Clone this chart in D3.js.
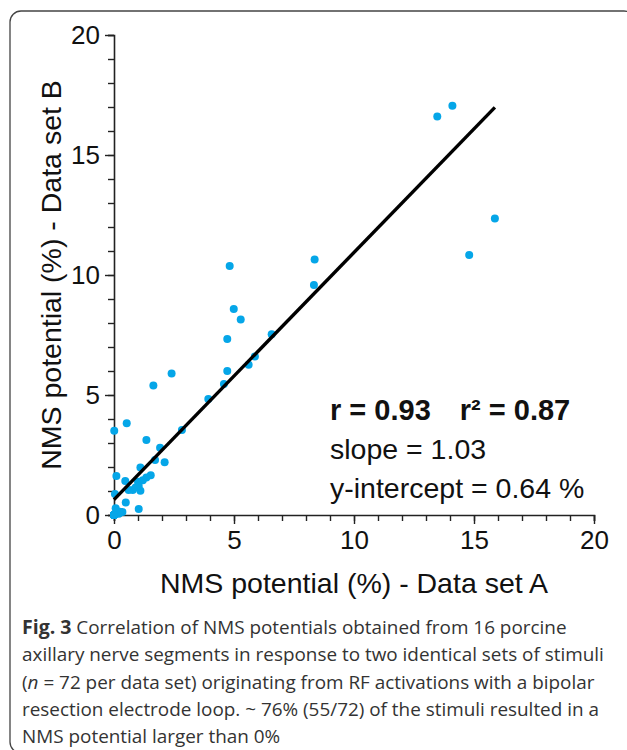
<!DOCTYPE html>
<html>
<head>
<meta charset="utf-8">
<script src="https://cdn.jsdelivr.net/npm/d3@7"></script>
<style>
html,body{margin:0;padding:0;background:#fff;}
svg{display:block;}
</style>
</head>
<body>
<svg id="chart" width="627" height="750"></svg>
<script>
// ---- data ----
const setA = [14.1, 13.47, 15.87, 14.8, 8.36, 8.33, 4.82, 4.99, 5.28, 6.57,
  4.72, 5.87, 5.61, 4.72, 4.58, 3.93, 2.4, 1.64, 0.53, 0.01,
  2.83, 1.35, 1.92, 1.71, 2.11, 1.10, 0.1, 1.53, 1.35, 0.47,
  1.0, 1.2, 1.03, 0.78, 1.10, 0.61, 0.04, 0.49, 1.03, 0.07,
  0.35, 0.2, 0.1, 0.25, 0.9, 0.0, 0.0, 0.0, 0.0, 0.0,
  0.0, 0.0, 0.0, 0.0, 0.0, 0.0, 0.0, 0.0, 0.0, 0.0,
  0.0, 0.0, 0.0, 0.0, 0.0, 0.0, 0.0, 0.0, 0.0, 0.0,
  0.0, 0.0];
const setB = [17.05, 16.6, 12.35, 10.83, 10.65, 9.58, 10.38, 8.58, 8.15, 7.53,
  7.33, 6.6, 6.26, 6.0, 5.46, 4.83, 5.9, 5.4, 3.82, 3.51,
  3.54, 3.12, 2.8, 2.29, 2.2, 1.98, 1.62, 1.66, 1.56, 1.42,
  1.39, 1.45, 1.21, 1.04, 1.01, 1.04, 0.87, 0.52, 0.25, 0.28,
  0.13, 0.05, 0.18, 0.14, 1.15, 0.0, 0.0, 0.0, 0.0, 0.0,
  0.0, 0.0, 0.0, 0.0, 0.0, 0.0, 0.0, 0.0, 0.0, 0.0,
  0.0, 0.0, 0.0, 0.0, 0.0, 0.0, 0.0, 0.0, 0.0, 0.0,
  0.0, 0.0];
const slope = 1.03;
const intercept = 0.64;
const majorTicks = [0, 5, 10, 15, 20];
const minorTicks = d3.range(0, 21, 1);
const xTitle = "NMS potential (%) - Data set A";
const yTitle = "NMS potential (%) - Data set B";
const statLines = ["slope = 1.03", "y-intercept = 0.64 %"];
const captionLines = [
  ["Fig. 3", " Correlation of NMS potentials obtained from 16 porcine"],
  ["", "axillary nerve segments in response to two identical sets of stimuli"],
  ["", "(|n| = 72 per data set) originating from RF activations with a bipolar"],
  ["", "resection electrode loop. ~ 76% (55/72) of the stimuli resulted in a"],
  ["", "NMS potential larger than 0%"]
];

const svg = d3.select("#chart");
const sans = "Liberation Sans, Arial, sans-serif";

// frame
svg.append("rect").attr("x", 10).attr("y", 11).attr("width", 625).attr("height", 742)
  .attr("rx", 11).attr("fill", "none").attr("stroke", "#444").attr("stroke-width", 1.3);

const x = d3.scaleLinear().domain([0, 20]).range([114, 594]);
const y = d3.scaleLinear().domain([0, 20]).range([515, 35]);

const axisColor = "#222";
// x axis
const gx = svg.append("g").attr("transform", `translate(0,${y(0)})`);
gx.call(d3.axisBottom(x).tickValues(minorTicks).tickSize(6).tickFormat(""));
gx.selectAll(".tick line").attr("stroke", axisColor).attr("stroke-width", 1.4);
const gx2 = svg.append("g").attr("transform", `translate(0,${y(0)})`);
gx2.call(d3.axisBottom(x).tickValues(majorTicks).tickSize(9).tickPadding(7).tickFormat(d3.format("d")));
gx2.selectAll(".tick line").attr("stroke", axisColor).attr("stroke-width", 1.4);
gx2.selectAll(".tick text").attr("font-family", sans).attr("font-size", 26).attr("fill", "#111");
gx.select(".domain").attr("stroke", axisColor).attr("stroke-width", 1.6);
gx2.select(".domain").remove();

// y axis
const gy = svg.append("g").attr("transform", `translate(${x(0)},0)`);
gy.call(d3.axisLeft(y).tickValues(minorTicks).tickSize(6).tickFormat(""));
gy.selectAll(".tick line").attr("stroke", axisColor).attr("stroke-width", 1.4);
const gy2 = svg.append("g").attr("transform", `translate(${x(0)},0)`);
gy2.call(d3.axisLeft(y).tickValues(majorTicks).tickSize(9).tickPadding(5).tickFormat(d3.format("d")));
gy2.selectAll(".tick line").attr("stroke", axisColor).attr("stroke-width", 1.4);
gy2.selectAll(".tick text").attr("font-family", sans).attr("font-size", 26).attr("fill", "#111");
gy.select(".domain").attr("stroke", axisColor).attr("stroke-width", 1.6);
gy2.select(".domain").remove();

// axis titles
svg.append("text").attr("x", 354).attr("y", 593)
  .attr("text-anchor", "middle").attr("font-family", sans)
  .attr("font-size", 28.5).attr("fill", "#111").text(xTitle);
svg.append("text").attr("transform", `translate(61,${(y(0) + y(20)) / 2}) rotate(-90)`)
  .attr("text-anchor", "middle").attr("font-family", sans)
  .attr("font-size", 28.5).attr("fill", "#111").text(yTitle);

// points
const pts = setA.map((a, i) => ({ a, b: setB[i] }));
svg.append("g").selectAll("circle").data(pts).join("circle")
  .attr("cx", d => x(d.a)).attr("cy", d => y(d.b)).attr("r", 4)
  .attr("fill", "#05a6e8");

// regression line
const xMax = d3.max(setA);
svg.append("line")
  .attr("x1", x(0)).attr("y1", y(intercept))
  .attr("x2", x(xMax)).attr("y2", y(intercept + slope * xMax))
  .attr("stroke", "#000").attr("stroke-width", 3.4);

// stats text
const st = svg.append("text").attr("x", 330).attr("y", 420)
  .attr("font-family", sans).attr("font-size", 29)
  .attr("font-weight", "bold").attr("fill", "#111");
st.append("tspan").text("r = 0.93");
st.append("tspan").attr("dx", 29).text("r² = 0.87");
statLines.forEach((s, i) => {
  svg.append("text").attr("x", 330).attr("y", 459 + i * 38.5)
    .attr("font-family", sans).attr("font-size", 28.5)
    .attr("fill", "#111").text(s);
});

// caption
captionLines.forEach((ln, i) => {
  const t = svg.append("text").attr("x", 22).attr("y", 634 + i * 27.3)
    .attr("font-family", "Open Sans, sans-serif").attr("font-size", 18.9).attr("fill", "#333");
  if (ln[0]) t.append("tspan").attr("font-weight", "bold").attr("font-size", 19.5).text(ln[0]);
  const parts = ln[1].split("|");
  parts.forEach((p, k) => {
    const sp = t.append("tspan").text(p);
    if (k % 2 === 1) sp.attr("font-style", "italic");
  });
});
</script>
</body>
</html>
